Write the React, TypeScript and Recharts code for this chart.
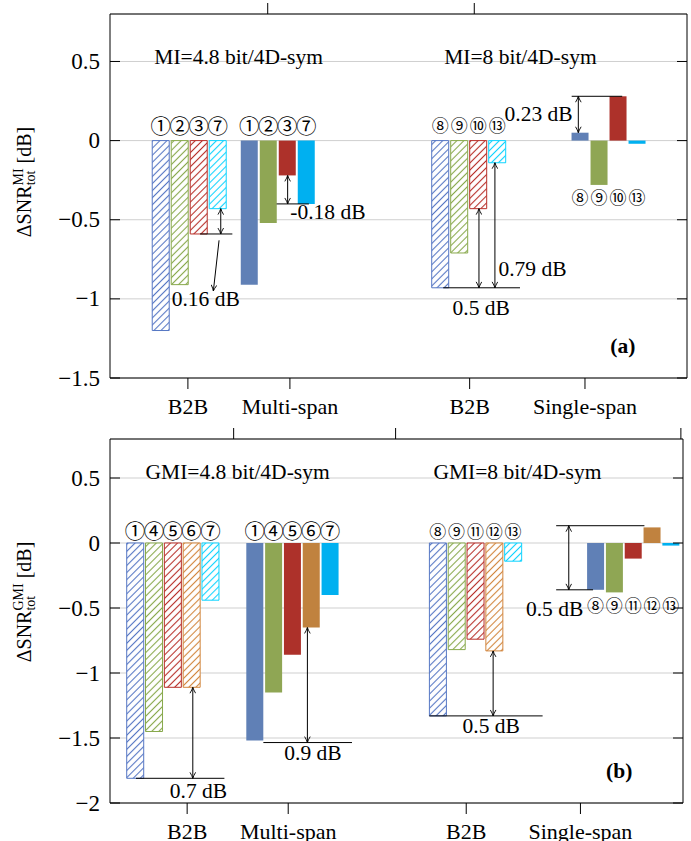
import React from 'react';
import {
  ComposedChart,
  Bar,
  Cell,
  XAxis,
  YAxis,
  CartesianGrid,
  ReferenceLine,
  ReferenceDot,
} from 'recharts';

// group names on the x axis
const groupNames = ['B2B', 'Multi-span', 'B2B', 'Single-span'];

// (a) MI
const miTitles = ['MI=4.8 bit/4D-sym', 'MI=8 bit/4D-sym'];
const miCircles48 = ['①', '②', '③', '⑦'];
const miB2B48 = [-1.2, -0.91, -0.59, -0.43];
const miMulti48 = [-0.91, -0.52, -0.22, -0.4];
const miCircles8 = ['⑧', '⑨', '⑩', '⑬'];
const miB2B8 = [-0.93, -0.71, -0.43, -0.14];
const miSingle8 = [0.05, -0.28, 0.28, -0.02];

// (b) GMI
const gmiTitles = ['GMI=4.8 bit/4D-sym', 'GMI=8 bit/4D-sym'];
const gmiCircles48 = ['①', '④', '⑤', '⑥', '⑦'];
const gmiB2B48 = [-1.81, -1.45, -1.11, -1.11, -0.44];
const gmiMulti48 = [-1.52, -1.15, -0.86, -0.65, -0.4];
const gmiCircles8 = ['⑧', '⑨', '⑪', '⑫', '⑬'];
const gmiB2B8 = [-1.33, -0.82, -0.74, -0.83, -0.14];
const gmiSingle8 = [-0.36, -0.38, -0.12, 0.12, -0.02];

const yTicksA = [-1.5, -1, -0.5, 0, 0.5];
const yTicksB = [-2, -1.5, -1, -0.5, 0, 0.5];

// layout: x axis measured in bar slots
const groupTicks = [4.1, 9.47, 18.93, 25.0];
const centersA = [4.17, 8.83, 18.88, 26.24];
const centersB = [3.335, 9.69, 19.42, 27.8];

const SERIF = '"Liberation Serif", "Times New Roman", serif';
const CJK = '"Noto Sans CJK JP", "Noto Sans CJK SC", sans-serif';
const TEXT_SIZE = 21.5;

const SOLID: Record<string, string> = {
  blue: '#6080b6',
  green: '#8fa654',
  red: '#ad312a',
  cyan: '#00b0f0',
  orange: '#c0823f',
};
const HATCH: Record<string, string> = {
  blue: '#5677c4',
  green: '#88a94c',
  red: '#b8302a',
  cyan: '#10d4ff',
  orange: '#d2863e',
};
const colorsA = ['blue', 'green', 'red', 'cyan'];
const colorsB = ['blue', 'green', 'red', 'orange', 'cyan'];

type Row = {
  x: number;
  v: number;
  c: string;
  hatched: boolean;
  label: string;
  ly: number;
  small: boolean;
};

function groupRows(
  values: number[],
  center: number,
  colors: string[],
  hatched: boolean,
  labels: string[],
  ly: number,
  small: boolean
): Row[] {
  const n = values.length;
  return values.map((v, i) => ({
    x: center + i - (n - 1) / 2,
    v,
    c: colors[i],
    hatched,
    label: labels[i],
    ly,
    small,
  }));
}

const rowsA: Row[] = [
  ...groupRows(miB2B48, centersA[0], colorsA, true, miCircles48, 0.097, false),
  ...groupRows(miMulti48, centersA[1], colorsA, false, miCircles48, 0.097, false),
  ...groupRows(miB2B8, centersA[2], colorsA, true, miCircles8, 0.099, true),
  ...groupRows(miSingle8, centersA[3], colorsA, false, miCircles8, -0.355, true),
];

const rowsB: Row[] = [
  ...groupRows(gmiB2B48, centersB[0], colorsB, true, gmiCircles48, 0.1, false),
  ...groupRows(gmiMulti48, centersB[1], colorsB, false, gmiCircles48, 0.1, false),
  ...groupRows(gmiB2B8, centersB[2], colorsB, true, gmiCircles8, 0.1, true),
  ...groupRows(gmiSingle8, centersB[3], colorsB, false, gmiCircles8, -0.475, true),
];

const fmtY = (v: number) => (v < 0 ? '\u2212' + Math.abs(v) : String(v));

const LeftTick = (p: any) => (
  <g>
    <line x1={p.x + 10} x2={p.x + 20} y1={p.y} y2={p.y} stroke="#000" />
    <text
      x={p.x}
      y={p.y}
      textAnchor="end"
      dominantBaseline="central"
      fontSize={23}
      fontFamily={SERIF}
      fill="#000"
    >
      {fmtY(p.payload.value)}
    </text>
  </g>
);

const RightTick = (p: any) => (
  <line x1={p.x - 10} x2={p.x} y1={p.y} y2={p.y} stroke="#000" />
);

// text at a data position
const note = (
  k: string,
  x: number,
  y: number,
  s: string,
  opts: { size?: number; bold?: boolean; font?: string; anchor?: string } = {}
) => (
  <ReferenceDot
    key={k}
    x={x}
    y={y}
    r={0}
    ifOverflow="visible"
    shape={(p: any) => (
      <text
        x={p.cx}
        y={p.cy}
        textAnchor={opts.anchor || 'middle'}
        dominantBaseline="central"
        fontSize={opts.size || TEXT_SIZE}
        fontWeight={opts.bold ? 'bold' : 'normal'}
        fontFamily={opts.font || SERIF}
        fill="#000"
      >
        {s}
      </text>
    )}
  />
);

const hline = (k: string, x1: number, x2: number, y: number) => (
  <ReferenceLine
    key={k}
    segment={[
      { x: x1, y },
      { x: x2, y },
    ]}
    stroke="#000"
    strokeWidth={1}
    ifOverflow="visible"
  />
);

const arrow = (
  id: string,
  k: string,
  x1: number,
  y1: number,
  x2: number,
  y2: number,
  both = true
) => (
  <ReferenceLine
    key={k}
    segment={[
      { x: x1, y: y1 },
      { x: x2, y: y2 },
    ]}
    ifOverflow="visible"
    shape={(p: any) => (
      <line
        x1={p.x1}
        y1={p.y1}
        x2={p.x2}
        y2={p.y2}
        stroke="#000"
        strokeWidth={1}
        markerEnd={`url(#arr-${id})`}
        markerStart={both ? `url(#arr-${id})` : undefined}
      />
    )}
  />
);

const notesA = [
  note('t1', 6.77, 0.53, miTitles[0]),
  note('t2', 21.6, 0.53, miTitles[1]),
  note('pa', 26.99, -1.3, '(a)', { bold: true }),
  hline('h1', 4.74, 6.44, -0.59),
  arrow('a', 'v1', 5.83, -0.43, 5.83, -0.59),
  arrow('a', 'd1', 5.74, -0.63, 5.44, -0.95, false),
  note('n1', 5.04, -1.0, '0.16 dB'),
  hline('h2', 8.77, 10.47, -0.4),
  arrow('a', 'v2', 9.35, -0.22, 9.35, -0.4),
  note('n2', 11.47, -0.45, '-0.18 dB'),
  hline('h3', 17.54, 21.58, -0.93),
  arrow('a', 'v3', 19.42, -0.43, 19.42, -0.93),
  arrow('a', 'v4', 20.26, -0.14, 20.26, -0.93),
  note('n3', 22.24, -0.81, '0.79 dB'),
  note('n4', 19.54, -1.06, '0.5 dB'),
  hline('h4', 24.3, 26.96, 0.28),
  arrow('a', 'v5', 24.65, 0.28, 24.65, 0.05),
  note('n5', 22.56, 0.169, '0.23 dB'),
];

const notesB = [
  note('t1', 6.78, 0.55, gmiTitles[0]),
  note('t2', 21.65, 0.55, gmiTitles[1]),
  note('pb', 27.06, -1.757, '(b)', { bold: true }),
  hline('h1', 1.38, 6.08, -1.81),
  arrow('b', 'v1', 4.4, -1.11, 4.4, -1.81),
  note('n1', 4.7, -1.91, '0.7 dB'),
  hline('h2', 8.15, 12.86, -1.535),
  arrow('b', 'v2', 10.49, -0.65, 10.49, -1.535),
  note('n2', 10.79, -1.615, '0.9 dB'),
  hline('h3', 16.97, 22.99, -1.33),
  arrow('b', 'v3', 20.36, -0.83, 20.36, -1.33),
  note('n3', 20.26, -1.41, '0.5 dB'),
  hline('h4', 23.71, 28.4, 0.133),
  hline('h5', 23.71, 25.67, -0.36),
  arrow('b', 'v4', 24.38, 0.133, 24.38, -0.36),
  note('n4', 23.63, -0.505, '0.5 dB'),
];

const YLabel = (sup: string, supW: number, shift: number) => (props: any) => {
  const vb = props.viewBox || { x: 0, y: 0, width: 110, height: 364 };
  const cx = vb.x + 31;
  const cy = vb.y + vb.height / 2 + shift;
  const totW = 14.8;
  return (
    <text
      transform={`translate(${cx},${cy}) rotate(-90)`}
      x={0}
      y={0}
      textAnchor="middle"
      fontSize={20}
      fontFamily={SERIF}
      fill="#000"
    >
      ΔSNR
      <tspan dy={-8} fontSize={14}>
        {sup}
      </tspan>
      <tspan dx={-supW} dy={12} fontSize={14}>
        tot
      </tspan>
      <tspan dx={Math.max(0, supW - totW) + 5} dy={-4}>
        [dB]
      </tspan>
    </text>
  );
};

type PanelProps = {
  id: string;
  height: number;
  topH: number;
  bottomH: number;
  rightW: number;
  xMax: number;
  yDomain: [number, number];
  yTicks: number[];
  rows: Row[];
  colors: string[];
  sup: string;
  supW: number;
  shift: number;
  notes: React.ReactNode[];
};

function Panel(p: PanelProps) {
  return (
    <ComposedChart
      width={691}
      height={p.height}
      data={p.rows}
      margin={{ top: 0, right: 0, bottom: 0, left: 0 }}
      style={{ fontFamily: SERIF }}
    >
      <defs>
        {p.colors.map((c) => (
          <pattern
            key={c}
            id={`hatch-${p.id}-${c}`}
            patternUnits="userSpaceOnUse"
            width={5}
            height={5}
            patternTransform="rotate(45)"
          >
            <rect width={5} height={5} fill="#fff" />
            <line x1={2.5} y1={0} x2={2.5} y2={5} stroke={HATCH[c]} strokeWidth={1.1} />
          </pattern>
        ))}
        <marker
          id={`arr-${p.id}`}
          viewBox="0 0 10 10"
          refX={9.5}
          refY={5}
          markerWidth={7}
          markerHeight={7}
          markerUnits="userSpaceOnUse"
          orient="auto-start-reverse"
        >
          <path d="M1,1 Q6,4 9.5,5 Q6,6 1,9" fill="none" stroke="#000" strokeWidth={1.3} />
        </marker>
      </defs>
      <CartesianGrid vertical={false} stroke="#cfcfcf" />
      <XAxis
        type="number"
        dataKey="x"
        domain={[0, p.xMax]}
        ticks={groupTicks}
        interval={0}
        allowDataOverflow
        height={p.bottomH}
        tickSize={11}
        tickMargin={9}
        axisLine={{ stroke: '#000' }}
        tickLine={{ stroke: '#000' }}
        tick={{ fontSize: 22, fill: '#000', fontFamily: SERIF }}
        tickFormatter={(v: number) => groupNames[groupTicks.indexOf(v)] || ''}
      />
      <XAxis
        xAxisId="top"
        orientation="top"
        type="number"
        domain={[0, p.xMax]}
        ticks={groupTicks}
        interval={0}
        allowDataOverflow
        height={p.topH}
        tickSize={11}
        axisLine={{ stroke: '#000' }}
        tickLine={{ stroke: '#000' }}
        tick={() => <g />}
      />
      <YAxis
        type="number"
        domain={p.yDomain}
        ticks={p.yTicks}
        interval={0}
        allowDataOverflow
        width={110}
        tickSize={0}
        tickMargin={10}
        tickLine={false}
        axisLine={{ stroke: '#000' }}
        tick={<LeftTick />}
        label={{ content: YLabel(p.sup, p.supW, p.shift) }}
      />
      <YAxis
        yAxisId="right"
        orientation="right"
        type="number"
        domain={p.yDomain}
        ticks={p.yTicks}
        interval={0}
        allowDataOverflow
        width={p.rightW}
        tickSize={0}
        tickMargin={0}
        tickLine={false}
        axisLine={{ stroke: '#000' }}
        tick={<RightTick />}
      />
      <Bar dataKey="v" barSize={17} isAnimationActive={false}>
        {p.rows.map((r, i) => (
          <Cell
            key={i}
            fill={r.hatched ? `url(#hatch-${p.id}-${r.c})` : SOLID[r.c]}
            stroke={r.hatched ? HATCH[r.c] : SOLID[r.c]}
            strokeWidth={r.hatched ? 1 : 0}
          />
        ))}
      </Bar>
      {p.rows.map((r, i) =>
        note(`c${i}`, r.x, r.ly, r.label, { size: r.small ? 17 : 20.5, font: CJK })
      )}
      {p.notes}
    </ComposedChart>
  );
}

export default function App() {
  return (
    <div
      style={{
        position: 'absolute',
        left: 0,
        top: 0,
        width: 691,
        height: 841,
        background: '#fff',
        fontFamily: SERIF,
      }}
    >
      <div style={{ position: 'absolute', left: 0, top: 0 }}>
        <Panel
          id="a"
          height={420}
          topH={14}
          bottomH={42}
          rightW={4}
          xMax={30.37}
          yDomain={[-1.5, 0.8]}
          yTicks={yTicksA}
          rows={rowsA}
          colors={colorsA}
          sup="MI"
          supW={17}
          shift={-14}
          notes={notesA}
        />
      </div>
      <div style={{ position: 'absolute', left: 0, top: 420 }}>
        <Panel
          id="b"
          height={421}
          topH={19}
          bottomH={38}
          rightW={8}
          xMax={30.45}
          yDomain={[-2, 0.8]}
          yTicks={yTicksB}
          rows={rowsB}
          colors={colorsB}
          sup="GMI"
          supW={27.2}
          shift={-19}
          notes={notesB}
        />
      </div>
    </div>
  );
}
